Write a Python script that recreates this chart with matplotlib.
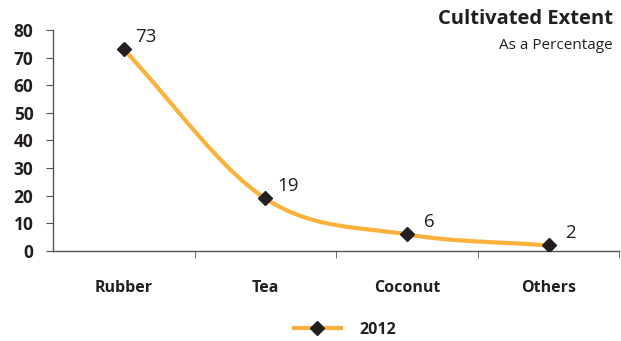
import numpy as np
import matplotlib
matplotlib.use('Agg')
import matplotlib.pyplot as plt
from matplotlib.lines import Line2D

crops = ['Rubber', 'Tea', 'Coconut', 'Others']
share_2012 = [73, 19, 6, 2]
y_ticks = [0, 10, 20, 30, 40, 50, 60, 70, 80]

plt.rcParams['font.family'] = ['Open Sans', 'DejaVu Sans']

orange = '#FBB23A'
dark = '#231F20'


def smooth(x, y, n=40):
    # catmull-rom through the points, like a spreadsheet "smoothed line"
    x = np.asarray(x, float)
    y = np.asarray(y, float)
    px = np.concatenate([[2 * x[0] - x[1]], x, [2 * x[-1] - x[-2]]])
    py = np.concatenate([[2 * y[0] - y[1]], y, [2 * y[-1] - y[-2]]])
    xs, ys = [], []
    t = np.linspace(0, 1, n)
    for i in range(1, len(px) - 2):
        p0, p1, p2, p3 = px[i - 1:i + 3]
        q0, q1, q2, q3 = py[i - 1:i + 3]
        b1x = p1 + (p2 - p0) / 6
        b2x = p2 - (p3 - p1) / 6
        b1y = q1 + (q2 - q0) / 6
        b2y = q2 - (q3 - q1) / 6
        xs.append((1 - t) ** 3 * p1 + 3 * (1 - t) ** 2 * t * b1x + 3 * (1 - t) * t ** 2 * b2x + t ** 3 * p2)
        ys.append((1 - t) ** 3 * q1 + 3 * (1 - t) ** 2 * t * b1y + 3 * (1 - t) * t ** 2 * b2y + t ** 3 * q2)
    return np.concatenate(xs), np.concatenate(ys)


fig = plt.figure(figsize=(6.21, 3.41), dpi=100)
ax = fig.add_axes([0.0853, 0.264, 0.912, 0.648])

xpos = np.arange(len(crops)) + 0.5
sx, sy = smooth(xpos, share_2012)
ax.plot(sx, sy, color=orange, lw=3, solid_capstyle='round', zorder=2)
ax.plot(xpos, share_2012, ls='none', marker='D', ms=7, color=dark, zorder=3)

for x, v in zip(xpos, share_2012):
    ax.annotate(str(v), (x, v), xytext=(16, 9), textcoords='offset points',
                fontsize=13.5, color=dark, va='center', ha='center')

ax.set_xlim(0, 4)
ax.set_ylim(0, 80)
ax.set_yticks(y_ticks)
ax.set_xticks(xpos)
ax.set_xticklabels(crops)
ax.set_xticks([1, 2, 3, 4], minor=True)
ax.tick_params(axis='x', which='major', length=0, pad=21, labelsize=11.5, labelcolor=dark)
ax.tick_params(axis='x', which='minor', length=5, direction='out', color='#555555')
ax.tick_params(axis='y', length=5, direction='out', pad=9, labelsize=12.5, labelcolor=dark, color='#555555')
for lab in ax.get_xticklabels() + ax.get_yticklabels():
    lab.set_fontweight('bold')

for side in ['top', 'right']:
    ax.spines[side].set_visible(False)
for side in ['left', 'bottom']:
    ax.spines[side].set_color('#555555')
    ax.spines[side].set_linewidth(1)

fig.text(0.987, 0.945, 'Cultivated Extent', ha='right', va='center',
         fontsize=14.5, fontweight='bold', color=dark)
fig.text(0.987, 0.868, 'As a Percentage', ha='right', va='center',
         fontsize=11, color=dark)

handle = Line2D([], [], color=orange, lw=3, marker='D', ms=7,
                markerfacecolor=dark, markeredgecolor=dark)
fig.legend([handle], ['2012'], loc='center', bbox_to_anchor=(0.555, 0.032),
           frameon=False, prop={'weight': 'bold', 'size': 11.5},
           handlelength=3.0, handletextpad=1.1, labelcolor=dark)

fig.savefig('out.png', dpi=100)
